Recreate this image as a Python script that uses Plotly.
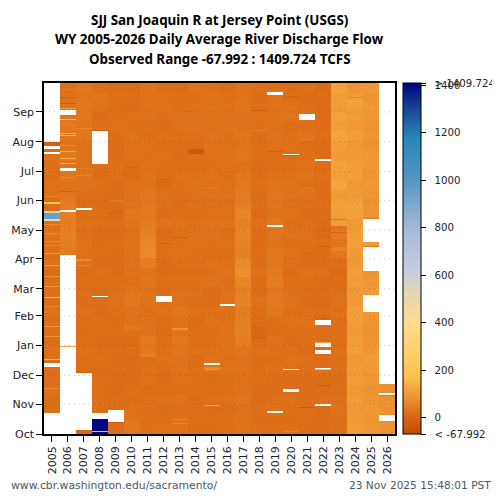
import plotly.graph_objects as go

years = list(range(2005, 2027))
month_days = [0, 31, 61, 92, 123, 151, 182, 212, 243, 273, 304, 335]
month_labels = ["Oct", "Nov", "Dec", "Jan", "Feb", "Mar", "Apr", "May", "Jun", "Jul", "Aug", "Sep"]
vmin = -67.992
vmax = 1409.724
bar_ticks = [vmin, 0, 200, 400, 600, 800, 1000, 1200, 1400, vmax]
bar_labels = ["< -67.992", "0", "200", "400", "600", "800", "1000", "1200", "1400", "> 1409.724"]
title_lines = ["SJJ San Joaquin R at Jersey Point (USGS)", "WY 2005-2026 Daily Average River Discharge Flow",
               "Observed Range -67.992 : 1409.724 TCFS"]

# 10-day averages through the water year, Oct at the start
wy2005 = [20, 20, 20, 18, 22, 20, 16, 20, 22, 18, 22, 20, 24, 18, 22, 20, 18, 24, 20, 22, 26, 22, 20, 18, 22, 24, 20, 22, 24, 20, 22, 24, 18, 22, 20, 22]
wy2006 = [20, 20, 20, 20, 20, 20, 20, 20, 20, 20, 22, 20, 20, 20, 20, 20, 20, 20, 42, 48, 52, 46, 50, 44, 30, 28, 32, 26, 34, 28, 30, 36, 32, 28, 26, 24]
wy2007 = [15, 18, 20, 20, 20, 20, 20, 20, 22, 20, 18, 20, 22, 18, 22, 20, 18, 22, 24, 28, 22, 24, 20, 20, 22, 26, 28, 24, 26, 28, 32, 30, 34, 36, 30, 32]
wy2008 = [20, 20, 20, 20, 20, 20, 18, 22, 20, 18, 20, 22, 18, 16, 18, 20, 22, 18, 20, 16, 18, 20, 22, 18, 20, 22, 16, 20, 22, 20, 16, 22, 18, 26, 30, 22]
wy2009 = [16, 14, 18, 16, 14, 18, 20, 18, 16, 14, 20, 18, 22, 24, 22, 20, 18, 16, 18, 20, 16, 18, 14, 16, 16, 18, 20, 22, 18, 16, 20, 24, 22, 20, 22, 18]
wy2010 = [32, 28, 22, 20, 22, 18, 16, 18, 20, 18, 22, 24, 26, 34, 30, 22, 24, 26, 28, 26, 24, 30, 32, 26, 28, 24, 12, 20, 24, 26, 28, 22, 24, 18, 20, 16]
wy2011 = [22, 20, 22, 20, 18, 24, 22, 20, 34, 38, 26, 28, 22, 24, 26, 30, 28, 46, 68, 64, 52, 42, 38, 36, 34, 28, 26, 24, 22, 24, 20, 22, 26, 24, 26, 28]
wy2012 = [24, 20, 18, 22, 20, 16, 18, 24, 22, 20, 18, 20, 24, 22, 18, 20, 16, 18, 22, 20, 14, 26, 18, 22, 24, 12, 20, 22, 24, 20, 22, 18, 22, 26, 24, 20]
wy2013 = [28, 24, 22, 26, 20, 24, 28, 26, 30, 34, 28, 26, 30, 24, 26, 22, 18, 20, 24, 22, 24, 28, 22, 18, 20, 22, 24, 20, 16, 20, 22, 24, 26, 22, 20, 18]
wy2014 = [18, 20, 22, 18, 20, 22, 20, 18, 24, 22, 20, 18, 22, 20, 24, 22, 18, 20, 22, 26, 24, 22, 20, 22, 24, 26, 22, 20, 24, 18, 22, 26, 28, 24, 22, 26]
wy2015 = [18, 20, 16, 22, 20, 18, 24, 28, 24, 22, 20, 24, 22, 18, 20, 26, 22, 24, 20, 22, 26, 28, 24, 20, 26, 24, 28, 22, 24, 28, 26, 24, 28, 26, 28, 24]
wy2016 = [20, 22, 18, 24, 22, 20, 26, 22, 24, 28, 26, 22, 24, 26, 28, 22, 26, 24, 22, 24, 20, 26, 24, 22, 26, 22, 20, 24, 26, 22, 24, 28, 26, 24, 22, 18]
wy2017 = [28, 26, 24, 30, 26, 24, 28, 26, 30, 48, 52, 46, 44, 56, 52, 60, 78, 70, 50, 54, 58, 52, 60, 48, 42, 34, 30, 28, 32, 28, 30, 26, 28, 30, 26, 28]
wy2018 = [22, 18, 20, 16, 18, 22, 20, 18, 22, 16, 8, 18, 20, 24, 18, 16, 22, 18, 20, 16, 18, 22, 14, 20, 18, 22, 16, 18, 22, 20, 18, 22, 24, 20, 16, 22]
wy2019 = [20, 18, 22, 20, 16, 18, 24, 20, 22, 26, 18, 20, 34, 38, 36, 42, 40, 36, 34, 28, 30, 36, 26, 30, 32, 26, 24, 22, 20, 24, 26, 24, 28, 24, 26, 22]
wy2020 = [22, 18, 20, 22, 18, 16, 20, 24, 22, 18, 20, 24, 22, 26, 24, 20, 18, 22, 24, 20, 26, 22, 24, 20, 26, 28, 24, 22, 20, 24, 22, 18, 26, 24, 20, 18]
wy2021 = [18, 20, 22, 18, 16, 18, 20, 22, 18, 20, 22, 24, 22, 18, 20, 22, 24, 18, 20, 22, 24, 20, 18, 22, 24, 20, 26, 24, 22, 20, 26, 22, 24, 20, 18, 20]
wy2022 = [16, 18, 14, 20, 16, 18, 20, 16, 14, 18, 20, 16, 18, 14, 16, 18, 20, 16, 18, 22, 12, 14, 18, 20, 16, 18, 20, 16, 14, 18, 20, 16, 18, 14, 16, 12]
wy2023 = [22, 20, 24, 22, 20, 18, 22, 20, 24, 20, 22, 18, 20, 24, 22, 16, 12, 18, 34, 30, 42, 26, 105, 110, 98, 118, 105, 112, 100, 108, 116, 104, 112, 100, 106, 112]
wy2024 = [104, 100, 96, 102, 98, 104, 100, 96, 106, 102, 98, 104, 108, 100, 96, 102, 106, 98, 100, 108, 104, 98, 110, 112, 100, 96, 108, 104, 100, 96, 104, 98, 102, 108, 104, 90]
wy2025 = [92, 88, 94, 90, 86, 92, 96, 100, 92, 88, 84, 90, 94, 96, 100, 92, 88, 94, 90, 86, 92, 96, 88, 84, 90, 94, 88, 92, 96, 86, 90, 88, 92, 96, 88, 94]
wy2026 = [84, 80, 84, 82, 78, 84, 86, 80, 84, 82, 80, 80, 80, 80, 80, 80, 80, 80, 80, 80, 80, 80, 80, 80, 80, 80, 80, 80, 80, 80, 80, 80, 80, 80, 80, 80]
year_values = [wy2005, wy2006, wy2007, wy2008, wy2009, wy2010, wy2011, wy2012, wy2013, wy2014, wy2015,
               wy2016, wy2017, wy2018, wy2019, wy2020, wy2021, wy2022, wy2023, wy2024, wy2025, wy2026]

# single days and missing stretches: year, first day, last day, flow (None is missing)
events = [
    (2005, 0, 22, None), (2005, 47, 48, 70), (2005, 70, 74, None), (2005, 77, 78, 170), (2005, 101, 102, 90),
    (2005, 111, 112, 90), (2005, 132, 133, 70), (2005, 141, 142, 170), (2005, 143, 144, 100), (2005, 153, 154, 90),
    (2005, 163, 164, 90), (2005, 175, 176, 100), (2005, 187, 188, 90), (2005, 196, 197, 70), (2005, 200, 201, 80),
    (2005, 208, 209, 80), (2005, 217, 218, 70), (2005, 222, 224, 520), (2005, 224, 230, 950), (2005, 230, 232, 520),
    (2005, 239, 241, 180), (2005, 246, 247, 70), (2005, 291, 293, None), (2005, 293, 296, 8),
    (2005, 296, 299, None), (2005, 299, 304, -10), (2005, 304, 365, None),
    (2006, 0, 90, None), (2006, 90, 92, 120), (2006, 92, 186, None), (2006, 231, 233, None), (2006, 252, 253, -20),
    (2006, 266, 267, 70), (2006, 273, 277, None), (2006, 281, 282, 150), (2006, 286, 287, 150), (2006, 293, 294, 130),
    (2006, 300, 301, 70), (2006, 310, 311, 160), (2006, 312, 313, 150), (2006, 321, 322, 60), (2006, 327, 328, 170),
    (2006, 332, 337, None), (2006, 343, 344, -20), (2006, 349, 350, -20), (2006, 338, 339, 110), (2006, 358, 359, 40),
    (2007, 0, 4, 5), (2007, 4, 63, None), (2007, 63, 65, 0), (2007, 175, 176, 70), (2007, 180, 182, 75),
    (2007, 233, 235, None), (2007, 240, 241, 5), (2007, 268, 269, 60), (2007, 276, 277, 55), (2007, 317, 318, 70),
    (2008, 0, 2, 1400), (2008, 2, 3, 700), (2008, 3, 16, 1400), (2008, 16, 22, None), (2008, 142, 144, None),
    (2008, 225, 226, 5), (2008, 281, 315, None), (2008, 315, 316, -15),
    (2009, 11, 12, -15), (2009, 12, 25, None), (2009, 242, 243, 55), (2009, 230, 231, -15),
    (2010, 108, 112, 40), (2010, 11, 15, 35), (2010, 277, 278, 2),
    (2011, 80, 84, 50),
    (2012, 137, 143, None), (2012, 198, 199, -15), (2012, 264, 265, -10),
    (2013, 108, 110, 85), (2013, 204, 205, -20), (2013, 10, 11, 60), (2013, 15, 16, 60),
    (2014, 291, 296, -30),
    (2015, 72, 74, None), (2015, 29, 30, 130), (2015, 67, 68, 90), (2015, 68, 70, 65), (2015, 256, 257, 50),
    (2016, 133, 135, None),
    (2018, 100, 101, -15), (2018, 98, 99, 10), (2018, 336, 337, -20), (2018, 315, 316, 55),
    (2019, 22, 24, None), (2019, 215, 217, None), (2019, 293, 294, -20), (2019, 353, 356, None),
    (2020, 2, 3, 60), (2020, 44, 47, None), (2020, 67, 68, None), (2020, 290, 291, None), (2020, 289, 290, -25),
    (2020, 330, 331, 45), (2020, 350, 351, -10),
    (2021, 27, 28, -30), (2021, 187, 188, 5), (2021, 255, 256, 55), (2021, 306, 307, 55), (2021, 327, 333, None),
    (2022, 29, 31, None), (2022, 50, 51, -20), (2022, 67, 68, 170), (2022, 68, 69, None), (2022, 83, 87, None),
    (2022, 90, 95, None), (2022, 95, 96, 130), (2022, 113, 119, None), (2022, 120, 121, -20), (2022, 194, 195, -25),
    (2022, 284, 286, None),
    (2023, 216, 223, 105), (2023, 122, 126, 30), (2023, 190, 194, 55), (2023, 209, 210, -5),
    (2024, 349, 350, 60), (2024, 345, 347, 120),
    (2025, 127, 145, None), (2025, 170, 194, None), (2025, 194, 196, 40), (2025, 196, 200, 100),
    (2025, 200, 224, None), (2025, 224, 226, 60),
    (2026, 13, 20, None), (2026, 41, 43, None), (2026, 52, 365, None), (2026, 40, 41, 40),
]

# flow stop, colour
color_stops = [
    (vmin, "rgb(200,72,0)"), (0, "rgb(217,100,18)"), (100, "rgb(240,155,55)"), (180, "rgb(255,195,80)"),
    (400, "rgb(255,220,140)"), (520, "rgb(230,215,175)"), (620, "rgb(195,205,225)"), (800, "rgb(165,185,215)"),
    (1000, "rgb(85,150,195)"), (1180, "rgb(35,135,185)"), (1300, "rgb(25,70,150)"), (vmax, "rgb(0,0,130)"),
]
colorscale = [[(v - vmin) / (vmax - vmin), c] for v, c in color_stops]

# spread the 10-day values over the days of the year
days = list(range(365))
columns = []
for year, values in zip(years, year_values):
    col = [values[min(d * 36 // 365, 35)] for d in days]
    for ev_year, first, last, flow in events:
        if ev_year == year:
            for d in range(first, last):
                col[d] = flow
    columns.append(col)
z = [[columns[i][d] for i in range(len(years))] for d in days]

fig = go.Figure()
fig.add_trace(go.Heatmap(
    x=years, y=[d + 0.5 for d in days], z=z, zmin=vmin, zmax=vmax, colorscale=colorscale, hoverongaps=False,
    colorbar=dict(
        thickness=18, len=1, x=1.0228, xanchor="left", xpad=0, ypad=0, outlinewidth=1, outlinecolor="black",
        ticks="outside", ticklen=5, tickcolor="black", tickmode="array", tickvals=bar_ticks,
        ticktext=["\u00a0\u00a0" + t for t in bar_labels], tickfont=dict(size=10.2, color="#222"),
    ),
))

# dotted month lines sit on top of the heatmap
for day in month_days[1:]:
    fig.add_hline(y=day, line=dict(color="rgba(90,90,90,0.38)", width=1, dash="1px,4px"), layer="above")

fig.update_xaxes(
    range=[2004.5, 2026.5], tickmode="array", tickvals=years, tickangle=-90, ticks="outside", ticklen=6,
    tickcolor="black", showline=True, linewidth=1.5, linecolor="black", mirror=True, showgrid=False, zeroline=False,
)
fig.update_yaxes(
    range=[0, 365], tickmode="array", tickvals=month_days, ticktext=month_labels, ticks="outside", ticklen=6,
    tickcolor="black", showline=True, linewidth=1.5, linecolor="black", mirror=True, showgrid=False, zeroline=False,
)
# the page adds 8px round the figure, so it is 492 wide and the margins are 8 less
fig.update_layout(
    width=492, height=492, margin=dict(l=36, r=105, t=75, b=66, autoexpand=False), plot_bgcolor="white",
    paper_bgcolor="white", font=dict(family="DejaVu Sans", size=11, color="#222"), showlegend=False,
)
for line, y_pos in zip(title_lines, [1.179, 1.124, 1.069]):
    fig.add_annotation(text="<b>" + line + "</b>", xref="paper", yref="paper", x=0.5, y=y_pos, xanchor="center",
                       yanchor="middle", showarrow=False, font=dict(family="Noto Sans", size=13.4, color="black"))
fig.add_annotation(text="www.cbr.washington.edu/sacramento/", xref="paper", yref="paper", x=-0.1, y=-0.146,
                   xanchor="left", yanchor="middle", showarrow=False, font=dict(size=10.8, color="#4a5a64"))
fig.add_annotation(text="23 Nov 2025 15:48:01 PST", xref="paper", yref="paper", x=1.28, y=-0.146,
                   xanchor="right", yanchor="middle", showarrow=False, font=dict(size=10.6, color="#4a5a64"))

fig.write_html("out.html")
